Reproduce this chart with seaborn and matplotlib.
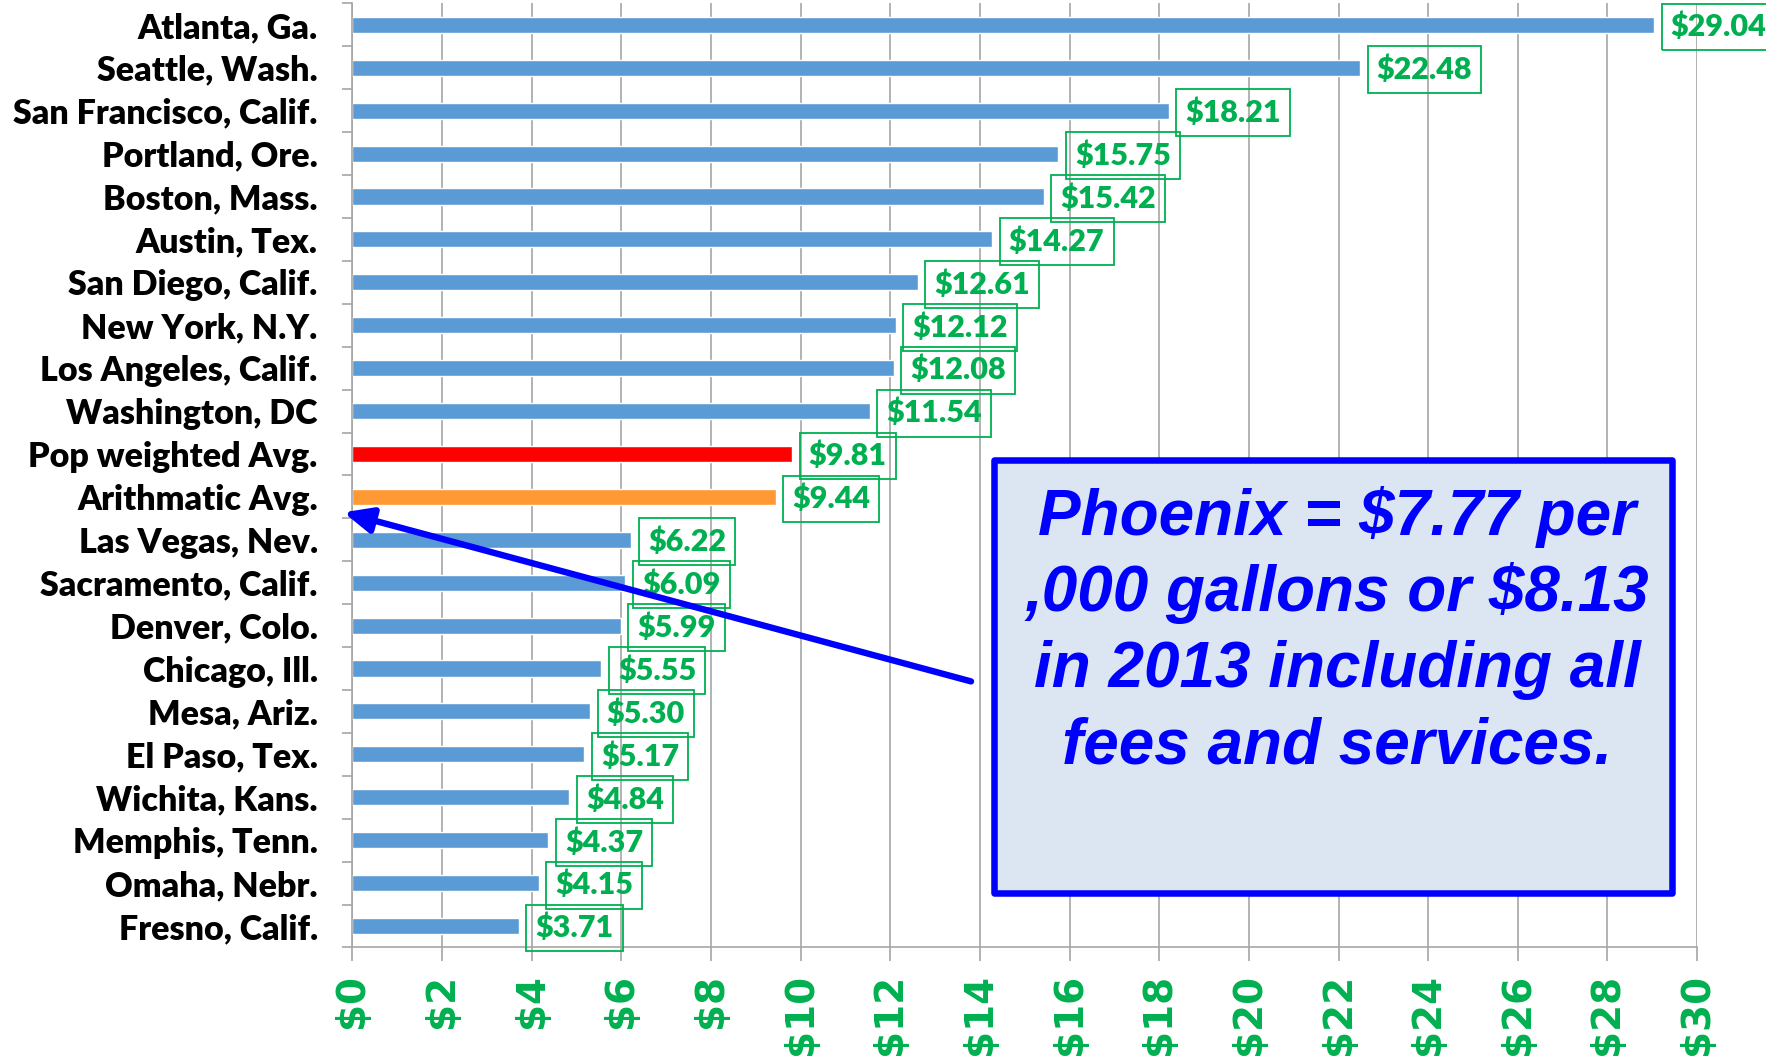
import matplotlib
matplotlib.use('Agg')
import matplotlib.pyplot as plt
import matplotlib.patches as patches
import numpy as np
import seaborn as sns

# water cost per 1,000 gallons
cities = ['Atlanta, Ga.', 'Seattle, Wash.', 'San Francisco, Calif.', 'Portland, Ore.',
          'Boston, Mass.', 'Austin, Tex.', 'San Diego, Calif.', 'New York, N.Y.',
          'Los Angeles, Calif.', 'Washington, DC', 'Pop weighted Avg.', 'Arithmatic Avg.',
          'Las Vegas, Nev.', 'Sacramento, Calif.', 'Denver, Colo.', 'Chicago, Ill.',
          'Mesa, Ariz.', 'El Paso, Tex.', 'Wichita, Kans.', 'Memphis, Tenn.',
          'Omaha, Nebr.', 'Fresno, Calif.']
costs = [29.04, 22.48, 18.21, 15.75, 15.42, 14.27, 12.61, 12.12, 12.08, 11.54, 9.81, 9.44,
         6.22, 6.09, 5.99, 5.55, 5.30, 5.17, 4.84, 4.37, 4.15, 3.71]
bar_colors = ['#5B9BD5'] * 10 + ['#FF0000', '#FF9933'] + ['#5B9BD5'] * 10
x_ticks = list(range(0, 31, 2))
note_lines = ['Phoenix = $7.77 per', ',000 gallons or $8.13',
              'in 2013 including all', 'fees and services.']

GREEN = '#00B050'
BLUE = '#0000FF'

sns.set_style('white')
plt.rcParams['font.family'] = ['Lato', 'DejaVu Sans']

fig = plt.figure(figsize=(17.66, 10.63), dpi=100)
ax = fig.add_axes([0.1996, 0.1087, 0.7614, 0.8881])

sns.barplot(x=costs, y=cities, hue=cities, palette=bar_colors, legend=False,
            width=0.375, orient='h', saturation=1, ax=ax)

ax.set_xlim(0, 30)
ax.set_ylim(21.5, -0.5)
ax.set_axisbelow(True)
ax.grid(axis='x', color='#A6A6A6', lw=1.2)
ax.grid(axis='y', visible=False)
for s in ['top', 'right']:
    ax.spines[s].set_visible(False)
for s in ['left', 'bottom']:
    ax.spines[s].set_color('#A6A6A6')
    ax.spines[s].set_linewidth(1.2)

ax.set_xticks(x_ticks)
ax.set_xticklabels([f'${v}' for v in x_ticks], rotation=90, color=GREEN,
                   fontweight='bold', family='DejaVu Sans', fontsize=28)
ax.tick_params(axis='x', which='major', length=10, width=1.2, color='#A6A6A6',
               pad=9, bottom=True)

ax.set_yticks(np.arange(-0.5, 22, 1), minor=True)
ax.tick_params(axis='y', which='major', length=0, pad=25)
ax.tick_params(axis='y', which='minor', length=7, width=1.2, color='#A6A6A6', left=True)
for lab in ax.get_yticklabels():
    lab.set_fontweight('heavy')
    lab.set_fontsize(24.5)
    lab.set_color('black')
ax.set_xlabel('')
ax.set_ylabel('')

# value labels in green boxes
for i, v in enumerate(costs):
    ax.annotate(f'${v:.2f}', xy=(v, i), xytext=(12, -1.5), textcoords='offset points',
                va='center', ha='left', color=GREEN, fontsize=22, fontweight='heavy',
                bbox=dict(boxstyle='square,pad=0.3', fc='none', ec=GREEN, lw=1.3),
                annotation_clip=False, zorder=4)

# Phoenix callout box
rect = patches.Rectangle((14.32, 10.13), 15.11, 10.11, fc='#DCE6F2', ec=BLUE,
                         lw=4.7, joinstyle='round', zorder=5, clip_on=False)
ax.add_patch(rect)
for k, line in enumerate(note_lines):
    fig.text(1337 / 1766, 1 - (535 + 76 * k) / 1063, line, ha='center', va='baseline',
             color=BLUE, fontsize=46, fontweight='bold', fontstyle='italic',
             family='Liberation Sans', zorder=6)

ax.annotate('', xy=(-0.2, 11.36), xytext=(13.8, 15.3),
            arrowprops=dict(arrowstyle='-|>,head_length=0.85,head_width=0.38',
                            mutation_scale=20, color=BLUE, lw=4.6, shrinkA=0, shrinkB=0),
            annotation_clip=False, zorder=6)

fig.savefig('out.png', dpi=100)
